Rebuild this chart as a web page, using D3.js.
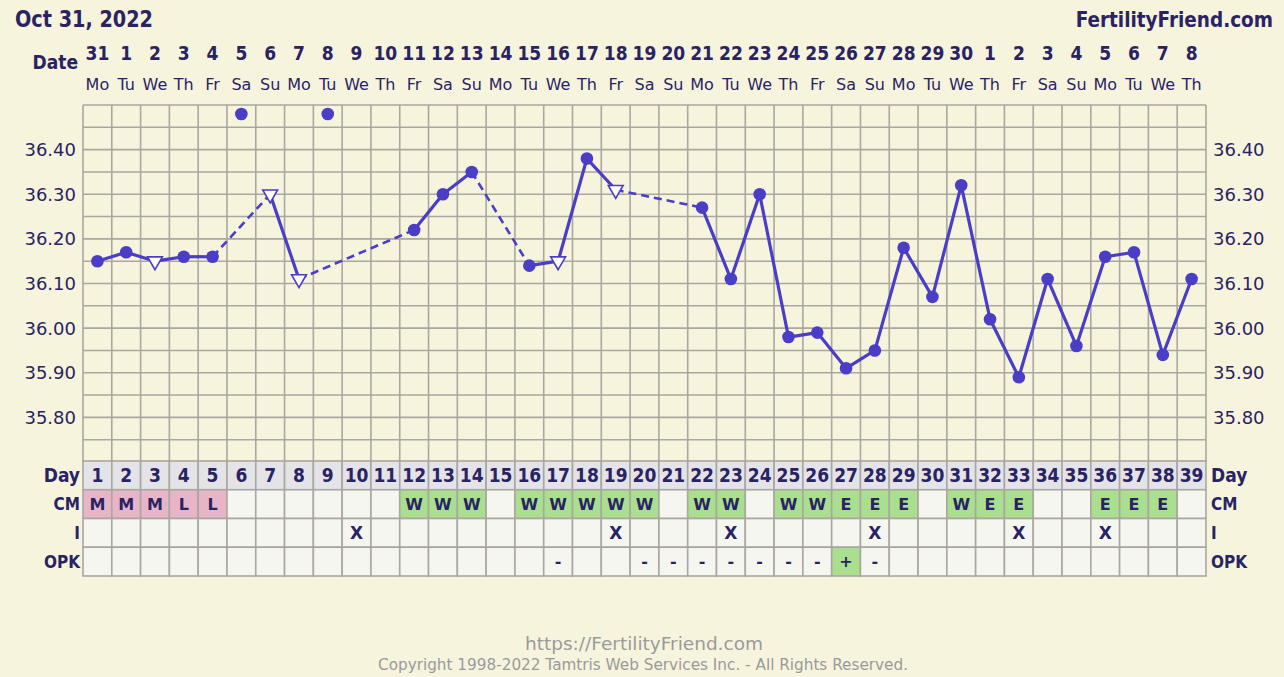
<!DOCTYPE html>
<html><head><meta charset="utf-8">
<script src="https://cdn.jsdelivr.net/npm/d3@7/dist/d3.min.js"></script>
<style>
html,body{margin:0;padding:0;background:#f7f4de;}
svg{display:block}
</style></head><body>
<svg id="c" width="1284" height="677"></svg>
<script>
// ---------- data ----------
const days = d3.range(1, 40);
const dates = ["31","1","2","3","4","5","6","7","8","9","10","11","12","13","14","15","16","17","18","19","20","21","22","23","24","25","26","27","28","29","30","1","2","3","4","5","6","7","8"];
const weekdays = ["Mo","Tu","We","Th","Fr","Sa","Su","Mo","Tu","We","Th","Fr","Sa","Su","Mo","Tu","We","Th","Fr","Sa","Su","Mo","Tu","We","Th","Fr","Sa","Su","Mo","Tu","We","Th","Fr","Sa","Su","Mo","Tu","We","Th"];
const temps = [36.15,36.17,36.15,36.16,36.16,null,36.30,36.11,null,null,null,36.22,36.30,36.35,null,36.14,36.15,36.38,36.31,null,null,36.27,36.11,36.30,35.98,35.99,35.91,35.95,36.18,36.07,36.32,36.02,35.89,36.11,35.96,36.16,36.17,35.94,36.11];
const openDays = [3, 7, 8, 17, 19];       // hollow triangle markers
const offChartDays = [6, 9];              // dots drawn above the chart
const offChartValue = 36.48;
const yTicks = [35.80, 35.90, 36.00, 36.10, 36.20, 36.30, 36.40];
const cm = ["M","M","M","L","L","","","","","","","W","W","W","","W","W","W","W","W","","W","W","","W","W","E","E","E","","W","E","E","","","E","E","E",""];
const intercourseDays = [10, 19, 23, 28, 33, 36];
const opk = {17:"-",20:"-",21:"-",22:"-",23:"-",24:"-",25:"-",26:"-",27:"+",28:"-"};
const rowLabels = ["Day","CM","I","OPK"];

// ---------- layout ----------
const W = 1284, H = 677;
const left = 83, right = 1206;
const yTop = 105, yBot = 462;
const rowH = 28.75;
const navy = "#2a2363", purple = "#4a3dc6", gridC = "#a9a79f";
const boldF = "'DejaVu Sans Condensed','DejaVu Sans',sans-serif";
const normF = "'DejaVu Sans',Verdana,sans-serif";

const svg = d3.select("#c");
svg.append("rect").attr("width", W).attr("height", H).attr("fill", "#f7f4de");

const x = d3.scaleBand().domain(days).range([left, right]).padding(0);
const cx = d => x(d) + x.bandwidth() / 2;
const y = d3.scaleLinear().domain([35.70, 36.50]).range([yBot, yTop]);

// title
svg.append("text").attr("x", 15).attr("y", 27).text("Oct 31, 2022")
  .attr("textLength", 138).attr("lengthAdjust", "spacingAndGlyphs")
  .attr("font-family", boldF).attr("font-weight", "bold").attr("font-size", 23).attr("fill", navy);
svg.append("text").attr("x", 1273).attr("y", 27).attr("text-anchor", "end").text("FertilityFriend.com")
  .attr("font-family", boldF).attr("font-weight", "bold").attr("font-size", 20.5).attr("fill", navy);

// date rows
svg.append("text").attr("x", 78).attr("y", 69).attr("text-anchor", "end").text("Date")
  .attr("font-family", boldF).attr("font-weight", "bold").attr("font-size", 19).attr("fill", navy);
svg.append("g").selectAll("text").data(days).join("text")
  .attr("x", d => cx(d)).attr("y", 60).attr("text-anchor", "middle")
  .text((d, i) => dates[i])
  .attr("font-family", boldF).attr("font-weight", "bold").attr("font-size", 19).attr("fill", navy);
svg.append("g").selectAll("text").data(days).join("text")
  .attr("x", d => cx(d)).attr("y", 90).attr("text-anchor", "middle")
  .text((d, i) => weekdays[i])
  .attr("font-family", normF).attr("font-size", 16).attr("fill", navy);

// grid
const grid = svg.append("g").attr("stroke", gridC).attr("stroke-width", 1.6);
const hLines = d3.range(0, 17).map(i => 35.70 + i * 0.05);
grid.selectAll("line.h").data(hLines).join("line").attr("class", "h")
  .attr("x1", left).attr("x2", right).attr("y1", d => y(d)).attr("y2", d => y(d));
grid.selectAll("line.v").data(d3.range(0, 40)).join("line").attr("class", "v")
  .attr("x1", i => left + i * x.bandwidth()).attr("x2", i => left + i * x.bandwidth())
  .attr("y1", yTop).attr("y2", yBot);

// y labels
["start", "end"].forEach(side => {
  svg.append("g").selectAll("text").data(yTicks).join("text")
    .attr("x", side === "start" ? 76 : 1213)
    .attr("text-anchor", side === "start" ? "end" : "start")
    .attr("y", d => y(d)).attr("dy", "0.36em")
    .text(d => d.toFixed(2))
    .attr("font-family", normF).attr("font-size", 18).attr("fill", navy);
});

// temperature lines
const pts = days.map((d, i) => ({day: d, t: temps[i]})).filter(p => p.t !== null);
const segs = [];
for (let i = 1; i < pts.length; i++) segs.push({a: pts[i - 1], b: pts[i], dashed: pts[i].day - pts[i - 1].day > 1});
svg.append("g").selectAll("line").data(segs).join("line")
  .attr("x1", s => cx(s.a.day)).attr("y1", s => y(s.a.t))
  .attr("x2", s => cx(s.b.day)).attr("y2", s => y(s.b.t))
  .attr("stroke", purple)
  .attr("stroke-width", s => s.dashed ? 2.6 : 3.2)
  .attr("stroke-dasharray", s => s.dashed ? "8,5" : null);

// markers
svg.append("g").selectAll("circle").data(pts.filter(p => !openDays.includes(p.day))).join("circle")
  .attr("cx", p => cx(p.day)).attr("cy", p => y(p.t)).attr("r", 6.3).attr("fill", purple);
const tri = d3.symbol().type(d3.symbolTriangle).size(95);
svg.append("g").selectAll("path").data(pts.filter(p => openDays.includes(p.day))).join("path")
  .attr("d", tri)
  .attr("transform", p => `translate(${cx(p.day)},${y(p.t)}) rotate(180)`)
  .attr("fill", "#ffffff").attr("stroke", purple).attr("stroke-width", 1.6);
svg.append("g").selectAll("circle").data(offChartDays).join("circle")
  .attr("cx", d => cx(d)).attr("cy", y(offChartValue)).attr("r", 6.3).attr("fill", purple);

// table
const rowY = i => yBot - 1 + i * rowH;
const cellFill = (r, d, i) => {
  if (r === 0) return "#e4e3e8";
  if (r === 1) { const v = cm[i]; if (v === "M" || v === "L") return "#e8b5c8"; if (v === "W" || v === "E") return "#a9df8f"; }
  if (r === 3 && opk[d] === "+") return "#a9df8f";
  return "#f6f6f1";
};
const cellText = (r, d, i) => {
  if (r === 0) return String(d);
  if (r === 1) return cm[i];
  if (r === 2) return intercourseDays.includes(d) ? "X" : "";
  return opk[d] || "";
};
rowLabels.forEach((lab, r) => {
  const g = svg.append("g");
  g.selectAll("rect").data(days).join("rect")
    .attr("x", d => x(d)).attr("y", rowY(r)).attr("width", x.bandwidth()).attr("height", rowH)
    .attr("fill", (d, i) => cellFill(r, d, i)).attr("stroke", gridC).attr("stroke-width", 1.6);
  g.selectAll("text").data(days).join("text")
    .attr("x", d => cx(d)).attr("y", rowY(r) + rowH / 2).attr("dy", "0.36em").attr("text-anchor", "middle")
    .text((d, i) => cellText(r, d, i))
    .attr("font-family", r === 0 ? boldF : "'DejaVu Sans',sans-serif").attr("font-weight", "bold")
    .attr("font-size", r === 0 ? 19 : (r === 2 ? 17 : 16)).attr("fill", navy);
  const fs = r === 0 ? 19 : 17;
  svg.append("text").attr("x", 80).attr("y", rowY(r) + rowH / 2).attr("dy", "0.36em").attr("text-anchor", "end")
    .text(lab).attr("font-family", boldF).attr("font-weight", "bold").attr("font-size", fs).attr("fill", navy);
  svg.append("text").attr("x", 1211).attr("y", rowY(r) + rowH / 2).attr("dy", "0.36em").attr("text-anchor", "start")
    .text(lab).attr("font-family", boldF).attr("font-weight", "bold").attr("font-size", fs).attr("fill", navy);
});

// footer
svg.append("text").attr("x", 644).attr("y", 650).attr("text-anchor", "middle").text("https://FertilityFriend.com")
  .attr("textLength", 238).attr("lengthAdjust", "spacingAndGlyphs")
  .attr("font-family", normF).attr("font-size", 17).attr("fill", "#9a9a9a");
svg.append("text").attr("x", 643).attr("y", 670).attr("text-anchor", "middle")
  .text("Copyright 1998-2022 Tamtris Web Services Inc. - All Rights Reserved.")
  .attr("textLength", 530).attr("lengthAdjust", "spacingAndGlyphs")
  .attr("font-family", normF).attr("font-size", 15).attr("fill", "#9a9a9a");
</script>
</body></html>
